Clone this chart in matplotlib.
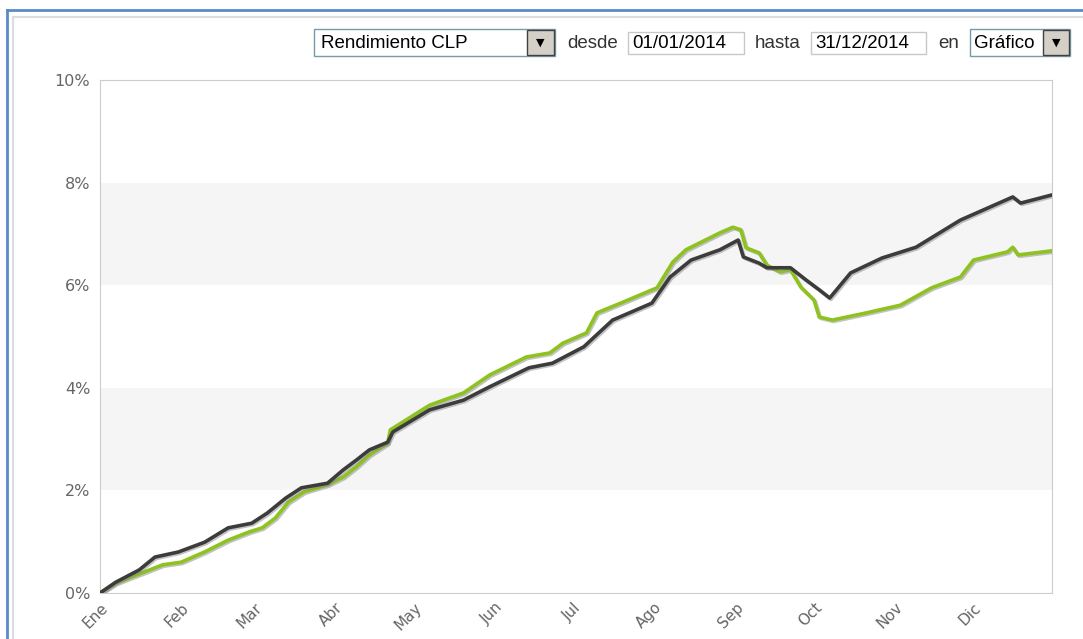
import numpy as np
import matplotlib
matplotlib.use('Agg')
import matplotlib.pyplot as plt
import matplotlib.patheffects as pe
from matplotlib.patches import Rectangle
from matplotlib.lines import Line2D

# day of year (0 = 1 Ene 2014) and cumulative return in %
dark_days = [0, 6, 15, 21, 30, 40, 49, 58, 64, 71, 77, 87, 93, 98, 103, 110, 112,
             126, 139, 149, 164, 173, 185, 189, 196, 211, 218, 226, 237, 244, 246,
             252, 255, 264, 270, 275, 279, 287, 299, 312, 329, 349, 352, 364]
dark_vals = [0.00, 0.21, 0.45, 0.70, 0.80, 0.99, 1.27, 1.36, 1.56, 1.85, 2.05, 2.14,
             2.40, 2.59, 2.79, 2.94, 3.14, 3.57, 3.76, 4.02, 4.39, 4.48, 4.80, 4.99,
             5.32, 5.65, 6.16, 6.49, 6.69, 6.88, 6.55, 6.43, 6.34, 6.34, 6.10, 5.91,
             5.75, 6.24, 6.53, 6.74, 7.27, 7.72, 7.60, 7.76]

green_days = [0, 6, 16, 24, 31, 40, 49, 57, 62, 67, 72, 78, 87, 93, 98, 103, 110,
              111, 126, 139, 149, 163, 172, 177, 186, 190, 200, 213, 219, 224, 237,
              242, 245, 247, 252, 255, 260, 264, 268, 273, 275, 280, 293, 306, 318,
              329, 334, 347, 349, 351, 364]
green_vals = [0.00, 0.19, 0.39, 0.55, 0.60, 0.80, 1.03, 1.19, 1.27, 1.46, 1.77, 1.97,
              2.11, 2.26, 2.46, 2.69, 2.92, 3.18, 3.66, 3.90, 4.25, 4.60, 4.68, 4.87,
              5.07, 5.46, 5.67, 5.95, 6.45, 6.69, 7.02, 7.13, 7.08, 6.73, 6.63, 6.39,
              6.26, 6.30, 5.96, 5.71, 5.38, 5.32, 5.46, 5.61, 5.95, 6.16, 6.49, 6.65,
              6.74, 6.59, 6.67]

month_labels = ['Ene', 'Feb', 'Mar', 'Abr', 'May', 'Jun', 'Jul', 'Ago', 'Sep',
                'Oct', 'Nov', 'Dic']
month_starts = [0, 31, 59, 90, 120, 151, 181, 212, 243, 273, 304, 334]
y_ticks = [0, 2, 4, 6, 8, 10]

W, H = 1083, 639
fig = plt.figure(figsize=(W / 100, H / 100), dpi=100)
fig.patch.set_facecolor('white')

# page frame
fig.add_artist(Line2D([7 / W, 7 / W], [0, 1 - 10 / H], color='#5b8ac8', lw=2))
fig.add_artist(Line2D([7 / W, 1], [1 - 10 / H, 1 - 10 / H], color='#5b8ac8', lw=2))
fig.add_artist(Line2D([13 / W, 13 / W], [0, 1 - 17 / H], color='#dddddd', lw=1.5))
fig.add_artist(Line2D([13 / W, 1], [1 - 17 / H, 1 - 17 / H], color='#dddddd', lw=1.5))

ax = fig.add_axes([100 / W, 46 / H, 952 / W, 513 / H])
ax.set_xlim(0, 364)
ax.set_ylim(0, 10)
for lo in (2, 6):
    ax.axhspan(lo, lo + 2, color='#f5f5f5', lw=0, zorder=0)

shadow = [pe.SimpleLineShadow(offset=(1, -1), shadow_color='#888888', alpha=0.5),
          pe.Normal()]
ax.plot(green_days, green_vals, color='#8dc21f', lw=2.6, path_effects=shadow, zorder=3)
ax.plot(dark_days, dark_vals, color='#3c3c3c', lw=2.6, path_effects=shadow, zorder=4)

for s in ax.spines.values():
    s.set_color('#cccccc')
ax.tick_params(length=0, pad=7, colors='#666666')
ax.set_yticks(y_ticks)
ax.set_yticklabels([f'{v}%' for v in y_ticks], fontsize=11.5)
ax.set_xticks(month_starts)
ax.set_xticklabels(month_labels, rotation=45, ha='right', va='top',
                   rotation_mode='anchor', fontsize=11)
ax.tick_params(axis='x', pad=5)


# top form controls
def box(x0, x1, y0, y1, edge='#c8c8c8', lw=1.0):
    fig.add_artist(Rectangle((x0 / W, 1 - y1 / H), (x1 - x0) / W, (y1 - y0) / H,
                             facecolor='white', edgecolor=edge, lw=lw))


def button(x0, x1, y0, y1):
    fig.add_artist(Rectangle((x0 / W, 1 - y1 / H), (x1 - x0) / W, (y1 - y0) / H,
                             facecolor='#d4d0c8', edgecolor='#404040', lw=1.0))
    cx, cy = (x0 + x1) / 2, (y0 + y1) / 2
    fig.text(cx / W, 1 - cy / H, '\u25BC', fontsize=8, ha='center', va='center',
             color='black')


ty = 1 - 43 / H
fs = 13.5
box(314, 555, 29, 56, edge='#7a9aa8')
button(527, 554, 30, 55)
fig.text(321 / W, ty, 'Rendimiento CLP', fontsize=fs, va='center',
         family='Liberation Sans')
fig.text(567 / W, ty, 'desde', fontsize=fs, va='center', family='Liberation Sans',
         color='#333333')
box(628, 744, 32, 54)
fig.text(632 / W, ty, '01/01/2014', fontsize=fs, va='center', family='Liberation Sans')
fig.text(755 / W, ty, 'hasta', fontsize=fs, va='center', family='Liberation Sans',
         color='#333333')
box(811, 926, 32, 54)
fig.text(815 / W, ty, '31/12/2014', fontsize=fs, va='center', family='Liberation Sans')
fig.text(938 / W, ty, 'en', fontsize=fs, va='center', family='Liberation Sans',
         color='#333333')
box(970, 1070, 29, 56, edge='#7a9aa8')
button(1043, 1069, 30, 55)
fig.text(974 / W, ty, 'Gráfico', fontsize=fs, va='center', family='Liberation Sans')

fig.savefig('out.png', dpi=100)
